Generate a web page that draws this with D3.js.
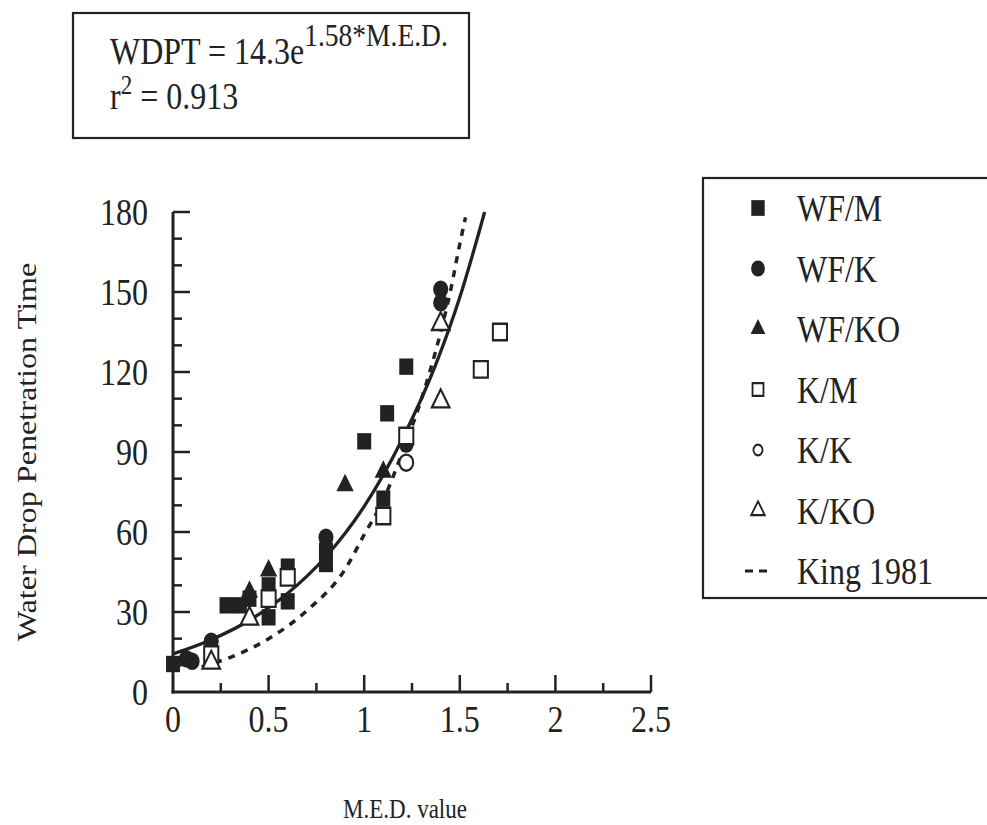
<!DOCTYPE html>
<html>
<head>
<meta charset="utf-8">
<script src="https://cdn.jsdelivr.net/npm/d3@7"></script>
<style>
html,body{margin:0;padding:0;background:#fff;}
svg{display:block;}
text{font-family:"Liberation Serif","Times New Roman",serif;fill:#222;}
</style>
</head>
<body>
<div id="chart"></div>
<script>
// ---- data ----
const xTicks = [0, 0.5, 1, 1.5, 2, 2.5];
const xTickLabels = ["0", "0.5", "1", "1.5", "2", "2.5"];
const yTicks = [0, 30, 60, 90, 120, 150, 180];
const yTickLabels = ["0", "30", "60", "90", "120", "150", "180"];

const wfM  = [[0,10.5],[0.28,32.5],[0.35,32.5],[0.4,35],[0.5,40],[0.5,28],[0.6,47],[0.6,34],[0.8,53],[0.8,48],[1.0,94],[1.1,72.5],[1.12,104.5],[1.22,122]];
const wfK  = [[0.07,12.5],[0.1,11.5],[0.2,19],[0.8,58],[1.22,93],[1.4,151],[1.4,146]];
const wfKO = [[0.4,37.5],[0.5,45.5],[0.9,77.5],[1.1,82.5]];
const kM   = [[0.2,14],[0.5,35],[0.6,43],[1.1,66],[1.22,96],[1.61,121],[1.71,135]];
const kK   = [[1.22,86]];
const kKO  = [[0.2,11],[0.4,27.5],[1.4,109],[1.4,138]];

const fitCurve  = [[0,14.3],[0.2,19.6],[0.4,26.9],[0.6,37],[0.8,50.8],[1.0,69.6],[1.2,95],[1.37,122],[1.5,148],[1.63,180]];
const kingCurve = [[0.15,9.5],[0.3,13],[0.5,20],[0.7,30.5],[0.9,46],[1.0,59],[1.1,72],[1.2,90],[1.3,110],[1.4,135],[1.45,150],[1.5,168],[1.53,178]];

const legendLabels = ["WF/M","WF/K","WF/KO","K/M","K/K","K/KO","King 1981"];

// ---- drawing ----
const W = 987, H = 825;
const ink = "#222";
const S = 1.17; // vertical stretch of the scanned original
const svg = d3.select("#chart").append("svg").attr("width", W).attr("height", H);

const x = d3.scaleLinear().domain([0, 2.5]).range([173, 651]);
const y = d3.scaleLinear().domain([0, 180]).range([692, 212]);

function txt(px, py, size, anchor){
  return svg.append("text").attr("transform",`translate(${px},${py}) scale(1,${S})`)
    .attr("text-anchor",anchor||"start").style("font-size",size+"px");
}

// equation box
svg.append("rect").attr("x",73).attr("y",13).attr("width",396).attr("height",125)
  .attr("fill","none").attr("stroke",ink).attr("stroke-width",2.2);
const eq = txt(110, 64, 32);
eq.append("tspan").text("WDPT = 14.3e");
eq.append("tspan").attr("dy",-15).style("font-size","27.5px").text("1.58*M.E.D.");
const r2 = txt(110, 109, 32);
r2.append("tspan").text("r");
r2.append("tspan").attr("dy",-13).style("font-size","23px").text("2");
r2.append("tspan").attr("dy",13).text(" = 0.913");

// axes
const gy = svg.append("g").attr("transform",`translate(${x(0)},0)`);
gy.append("line").attr("x1",0).attr("x2",0).attr("y1",y(180)).attr("y2",y(0)+1.5).attr("stroke",ink).attr("stroke-width",3);
gy.selectAll("line.t").data(d3.range(10,181,10)).join("line").attr("class","t")
  .attr("x1",0).attr("x2",d => d % 30 === 0 ? 17 : 9)
  .attr("y1",d=>y(d)).attr("y2",d=>y(d)).attr("stroke",ink).attr("stroke-width",2.5);
yTicks.forEach((d,i)=>{
  txt(148, y(d), 32, "end").attr("dy","0.35em").text(yTickLabels[i]);
});

const gx = svg.append("g").attr("transform",`translate(0,${y(0)})`);
gx.append("line").attr("x1",x(0)-1.5).attr("x2",x(2.5)).attr("y1",0).attr("y2",0).attr("stroke",ink).attr("stroke-width",3);
gx.selectAll("line.t").data(d3.range(1,11).map(i=>i*0.25)).join("line").attr("class","t")
  .attr("x1",d=>x(d)).attr("x2",d=>x(d)).attr("y1",0)
  .attr("y2",(d,i)=> (i%2===1) ? -17 : -9).attr("stroke",ink).attr("stroke-width",2.5);
xTicks.forEach((d,i)=>{
  txt(x(d), 732, 32, "middle").text(xTickLabels[i]);
});

// axis titles
txt(405, 818, 23, "middle").text("M.E.D. value");
svg.append("text").attr("transform",`translate(36,452) rotate(-90) scale(${S},1)`).attr("text-anchor","middle")
  .style("font-size","27.5px").text("Water Drop Penetration Time");

// curves
const line = d3.line().x(d=>x(d[0])).y(d=>y(d[1])).curve(d3.curveMonotoneX);
svg.append("path").attr("d",line(kingCurve)).attr("fill","none").attr("stroke",ink)
  .attr("stroke-width",3.5).attr("stroke-dasharray","7,7");
svg.append("path").attr("d",line(fitCurve)).attr("fill","none").attr("stroke",ink).attr("stroke-width",3.3);

// markers
function sym(type, size){ return d3.symbol().type(type).size(size)(); }
const markerDefs = [
  {data: wfM,  type: d3.symbolSquare,   size: 196, fill: ink,   stroke: "none"},
  {data: wfK,  type: d3.symbolCircle,   size: 177, fill: ink,   stroke: "none"},
  {data: wfKO, type: d3.symbolTriangle, size: 130, fill: ink,   stroke: "none"},
  {data: kM,   type: d3.symbolSquare,   size: 200, fill: "#fff", stroke: ink},
  {data: kK,   type: d3.symbolCircle,   size: 150, fill: "#fff", stroke: ink},
  {data: kKO,  type: d3.symbolTriangle, size: 135, fill: "#fff", stroke: ink}
];
markerDefs.forEach(m=>{
  svg.append("g").selectAll("path").data(m.data).join("path")
    .attr("d", sym(m.type, m.size))
    .attr("transform", d=>`translate(${x(d[0])},${y(d[1])}) scale(1,${S})`)
    .attr("fill", m.fill).attr("stroke", m.stroke).attr("stroke-width", 2);
});

// legend
svg.append("rect").attr("x",703).attr("y",178).attr("width",300).attr("height",420)
  .attr("fill","#fff").attr("stroke",ink).attr("stroke-width",2.2);
const legY = d3.scalePoint().domain(legendLabels).range([208,571]);
const legSyms = [
  {type: d3.symbolSquare, size: 180, fill: ink, stroke: "none"},
  {type: d3.symbolCircle, size: 150, fill: ink, stroke: "none"},
  {type: d3.symbolTriangle, size: 95, fill: ink, stroke: "none"},
  {type: d3.symbolSquare, size: 120, fill: "#fff", stroke: ink},
  {type: d3.symbolCircle, size: 65, fill: "#fff", stroke: ink},
  {type: d3.symbolTriangle, size: 80, fill: "#fff", stroke: ink}
];
legendLabels.forEach((lab,i)=>{
  const cy = legY(lab);
  if (i < 6) {
    const s = legSyms[i];
    svg.append("path").attr("d", sym(s.type, s.size)).attr("transform",`translate(758,${cy}) scale(1,${S})`)
      .attr("fill", s.fill).attr("stroke", s.stroke).attr("stroke-width", 1.8);
  } else {
    svg.append("line").attr("x1",745).attr("x2",773).attr("y1",cy).attr("y2",cy)
      .attr("stroke",ink).attr("stroke-width",3).attr("stroke-dasharray","8,6");
  }
  txt(797, cy, 32).attr("dy","0.35em").text(lab);
});
</script>
</body>
</html>
